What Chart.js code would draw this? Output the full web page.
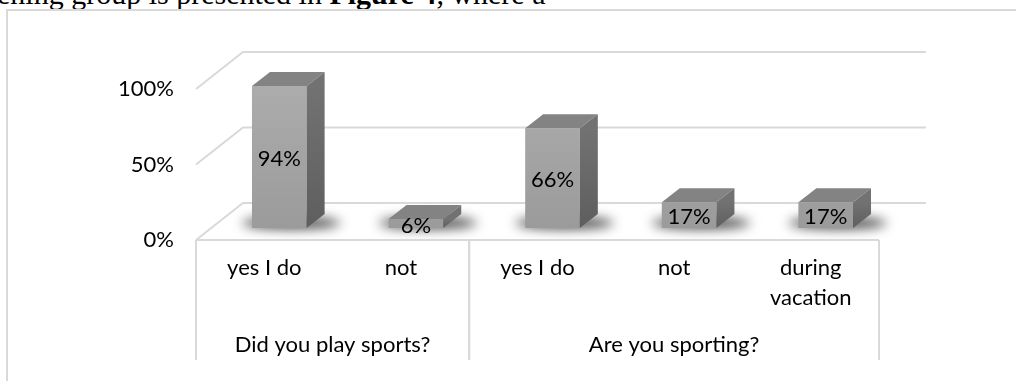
<!DOCTYPE html>
<html>
<head>
<meta charset="utf-8">
<script src="https://cdn.jsdelivr.net/npm/chart.js@4.4.1/dist/chart.umd.min.js"></script>
<style>
  html, body { margin: 0; padding: 0; background: #fff; overflow: hidden; }
  #page { position: relative; width: 1016px; height: 381px; overflow: hidden; }
  #intro {
    position: absolute; left: -3px; top: -21px; white-space: nowrap;
    font: 30px/30px "Liberation Serif", "Times New Roman", serif; color: #000;
  }
  #frame {
    position: absolute; left: 6px; top: 9px; width: 1200px; height: 600px;
    border: 2px solid #d9d9d9; box-sizing: border-box;
  }
  #sports { position: absolute; left: 0; top: 0; }
</style>
</head>
<body>
<div id="page">
  <div id="intro">ening group is presented in <b>Figure 4</b>, where a</div>
  <div id="frame"></div>
  <canvas id="sports" width="1016" height="381"></canvas>
</div>
<script>
const questions = ["Did you play sports?", "Are you sporting?"];
const questionSizes = [2, 3];
const answers = [["yes I do"], ["not"], ["yes I do"], ["not"], ["during", "vacation"]];
const shares = [94, 6, 66, 17, 17];
const yTicks = [0, 50, 100];

const FONT = { family: "Lato, 'Open Sans', sans-serif", size: 22 };
const INK = "#000";
const GRID = "#d9d9d9";
// offsets of the 3d planes, measured from the bar front plane
const DEPTH = { dx: 18, dy: -14 };   // bar front -> bar back
const WALL = { dx: 32, dy: -25 };    // bar front -> back wall
const FRONT = { dx: -15, dy: 12 };   // bar front -> floor front edge

function poly(ctx, pts, fill) {
  ctx.beginPath();
  ctx.moveTo(pts[0][0], pts[0][1]);
  pts.slice(1).forEach((p) => ctx.lineTo(p[0], p[1]));
  ctx.closePath();
  ctx.fillStyle = fill;
  ctx.fill();
}

const box3d = {
  id: "box3d",
  beforeDatasetsDraw(chart) {
    const { ctx, chartArea: a, scales } = chart;
    const y = scales.y;
    ctx.save();
    ctx.strokeStyle = GRID;
    ctx.lineWidth = 2;
    // back wall + left wall lines
    yTicks.forEach((v) => {
      const py = y.getPixelForValue(v);
      ctx.beginPath();
      ctx.moveTo(a.left + FRONT.dx, py + FRONT.dy);
      ctx.lineTo(a.left + WALL.dx, py + WALL.dy);
      ctx.lineTo(a.right + WALL.dx, py + WALL.dy);
      ctx.stroke();
    });
    // soft shadows on the floor
    const meta = chart.getDatasetMeta(0);
    meta.data.forEach((bar) => {
      ctx.save();
      ctx.filter = "blur(6px)";
      ctx.fillStyle = "rgba(0,0,0,0.72)";
      ctx.beginPath();
      ctx.ellipse(bar.x + 12, bar.base - 5, bar.width * 0.9, 6, 0, 0, Math.PI * 2);
      ctx.fill();
      ctx.restore();
    });
    ctx.restore();
  },
  afterDatasetsDraw(chart) {
    const { ctx } = chart;
    const meta = chart.getDatasetMeta(0);
    ctx.save();
    meta.data.forEach((bar, i) => {
      const l = bar.x - bar.width / 2;
      const r = bar.x + bar.width / 2;
      const top = [[l, bar.y], [r, bar.y], [r + DEPTH.dx, bar.y + DEPTH.dy], [l + DEPTH.dx, bar.y + DEPTH.dy]];
      poly(ctx, top, "#838383");
      const side = ctx.createLinearGradient(0, bar.y, 0, bar.base);
      side.addColorStop(0, "#727272");
      side.addColorStop(1, "#5e5e5e");
      poly(ctx, [[r, bar.y], [r + DEPTH.dx, bar.y + DEPTH.dy], [r + DEPTH.dx, bar.base + DEPTH.dy], [r, bar.base]], side);

      ctx.fillStyle = INK;
      ctx.font = `${FONT.size}px ${FONT.family}`;
      ctx.textAlign = "center";
      ctx.textBaseline = "middle";
      ctx.fillText(shares[i] + "%", bar.x, (bar.y + bar.base) / 2 + 2);
    });
    ctx.restore();
  },
  afterDraw(chart) {
    const { ctx, chartArea: a, scales } = chart;
    const x = scales.x;
    const step = (a.right - a.left) / answers.length;
    const top = a.bottom + FRONT.dy;
    const bottom = a.bottom + 132;
    ctx.save();
    ctx.strokeStyle = GRID;
    ctx.lineWidth = 2;
    ctx.beginPath();
    ctx.moveTo(a.left + FRONT.dx, top);
    ctx.lineTo(a.right + FRONT.dx, top);
    ctx.stroke();

    ctx.fillStyle = INK;
    ctx.font = `${FONT.size}px ${FONT.family}`;
    ctx.textAlign = "center";
    ctx.textBaseline = "middle";
    let start = 0;
    questions.forEach((q, g) => {
      const left = x.getPixelForValue(start) - step / 2 + FRONT.dx;
      const right = x.getPixelForValue(start + questionSizes[g] - 1) + step / 2 + FRONT.dx;
      ctx.beginPath();
      ctx.moveTo(left, top);
      ctx.lineTo(left, bottom);
      ctx.moveTo(right, top);
      ctx.lineTo(right, bottom);
      ctx.stroke();
      ctx.fillText(q, (left + right) / 2, a.bottom + 117);
      start += questionSizes[g];
    });
    ctx.restore();
  },
};

const ctx = document.getElementById("sports");
new Chart(ctx, {
  type: "bar",
  data: {
    labels: answers,
    datasets: [
      {
        data: shares,
        backgroundColor: (c) => {
          const area = c.chart.chartArea;
          if (!area) return "#a4a4a4";
          const g = c.chart.ctx.createLinearGradient(0, area.top, 0, area.bottom);
          g.addColorStop(0, "#adadad");
          g.addColorStop(1, "#9b9b9b");
          return g;
        },
        borderWidth: 0,
        barPercentage: 0.4,
        categoryPercentage: 1,
      },
    ],
  },
  options: {
    responsive: false,
    devicePixelRatio: 1,
    animation: false,
    layout: { padding: { top: 77, right: 122, left: 0, bottom: 0 } },
    plugins: { legend: { display: false }, tooltip: { enabled: false } },
    scales: {
      y: {
        min: 0,
        max: 100,
        afterFit: (s) => { s.width = 211; },
        afterBuildTicks: (s) => { s.ticks = yTicks.map((v) => ({ value: v })); },
        grid: { display: false, drawTicks: false },
        border: { display: false },
        ticks: {
          callback: (v) => v + "%",
          labelOffset: 12,
          padding: 37,
          color: INK,
          font: FONT,
        },
      },
      x: {
        afterFit: (s) => { s.height = 153; },
        grid: { display: false, drawTicks: false },
        border: { display: false },
        ticks: {
          labelOffset: -15,
          padding: 25,
          autoSkip: false,
          maxRotation: 0,
          color: INK,
          font: { ...FONT, lineHeight: 1.36 },
        },
      },
    },
  },
  plugins: [box3d],
});
</script>
</body>
</html>
